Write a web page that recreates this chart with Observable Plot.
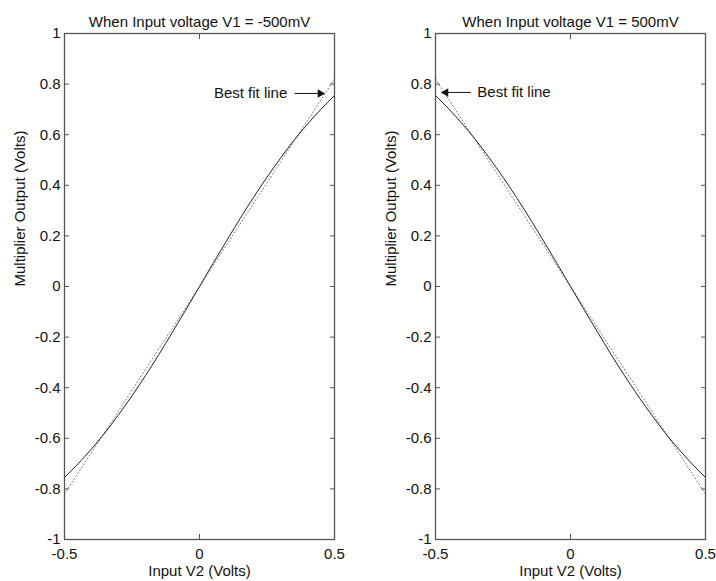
<!DOCTYPE html>
<html>
<head>
<meta charset="utf-8">
<script src="https://cdn.jsdelivr.net/npm/d3@7"></script>
<script src="https://cdn.jsdelivr.net/npm/@observablehq/plot@0.6"></script>
<style>
  html, body { margin: 0; padding: 0; background: #fff; }
  #wrap { position: relative; width: 716px; height: 581px; overflow: hidden; }
  #wrap > div { position: absolute; top: 0; }
</style>
</head>
<body>
<div id="wrap"><div id="left" style="left:0"></div><div id="right" style="left:358px"></div></div>
<script>
// ---- data ----
const v2 = [-0.5,-0.45,-0.4,-0.35,-0.3,-0.25,-0.2,-0.15,-0.1,-0.05,0,0.05,0.1,0.15,0.2,0.25,0.3,0.35,0.4,0.45,0.5];
const outNeg500 = [-0.755,-0.701,-0.642,-0.578,-0.507,-0.432,-0.352,-0.268,-0.180,-0.091,0,0.091,0.180,0.268,0.352,0.432,0.507,0.578,0.642,0.701,0.755];
const outPos500 = [0.755,0.701,0.642,0.578,0.507,0.432,0.352,0.268,0.180,0.091,0,-0.091,-0.180,-0.268,-0.352,-0.432,-0.507,-0.578,-0.642,-0.701,-0.755];
const fitX = [-0.5, 0.5];
const fitNeg500 = [-0.82, 0.82];
const fitPos500 = [0.82, -0.82];
const xTicks = [-0.5, 0, 0.5];
const yTicks = [-1,-0.8,-0.6,-0.4,-0.2,0,0.2,0.4,0.6,0.8,1];
const titles = ["When Input voltage V1 = -500mV", "When Input voltage V1 = 500mV"];
const xLabel = "Input V2 (Volts)";
const yLabel = "Multiplier Output (Volts)";
const noteText = "Best fit line";
// annotation arrows
const arrowNeg500 = {x1: 0.352, x2: 0.447, y: 0.763, tx: 0.325};
const arrowPos500 = {x1: -0.37, x2: -0.462, y: 0.767, tx: -0.345};

const FONT = "Liberation Sans, Arial, Helvetica, sans-serif";
const AX = "#555";
const FS = 15;

function panel(vals, fit, title, arrow, marginLeft, marginRight, textAnchor) {
  const curve = v2.map((x, i) => ({x, y: vals[i]}));
  const fitLine = fitX.map((x, i) => ({x, y: fit[i]}));
  return Plot.plot({
    width: 358, height: 581,
    marginLeft, marginRight, marginTop: 33, marginBottom: 42,
    style: {fontFamily: FONT, fontSize: FS + "px", color: "#111", background: "#fff"},
    x: {domain: [-0.5, 0.5]},
    y: {domain: [-1, 1]},
    marks: [
      Plot.line(fitLine, {x: "x", y: "y", stroke: "#777", strokeWidth: 1, strokeDasharray: "1,2.5"}),
      Plot.line(curve, {x: "x", y: "y", stroke: "#222", strokeWidth: 1, curve: "natural"}),
      Plot.frame({stroke: AX, strokeWidth: 1.3}),
      Plot.axisX(xTicks, {anchor: "bottom", tickSize: -5, tickPadding: 14, stroke: AX, fill: "#111",
        tickFormat: d => String(d), label: null, fontSize: FS}),
      Plot.axisX(xTicks, {anchor: "top", tickSize: -5, stroke: AX, tickFormat: () => "", label: null}),
      Plot.axisY(yTicks, {anchor: "left", tickSize: -5, tickPadding: 9, stroke: AX, fill: "#111",
        tickFormat: d => String(d), label: null, fontSize: FS}),
      Plot.axisY(yTicks, {anchor: "right", tickSize: -5, stroke: AX, tickFormat: () => "", label: null}),
      Plot.text([title], {frameAnchor: "top", dy: -17, text: d => d, fontSize: FS, fill: "#111"}),
      Plot.text([xLabel], {frameAnchor: "bottom", dy: 36, text: d => d, fontSize: FS, fill: "#111"}),
      Plot.text([yLabel], {frameAnchor: "left", dx: -44, rotate: -90, text: d => d, fontSize: FS, fill: "#111"}),
      Plot.link([arrow], {x1: "x1", x2: "x2", y1: "y", y2: "y", stroke: "#111", strokeWidth: 1}),
      Plot.dot([arrow], {x: "x2", y: "y", symbol: "triangle", r: 3.2, fill: "#111", stroke: "none",
        rotate: textAnchor === "end" ? 90 : -90}),
      Plot.text([arrow], {x: "tx", y: "y", text: () => noteText, textAnchor, fontSize: FS, fill: "#111"})
    ]
  });
}

document.getElementById("left").append(panel(outNeg500, fitNeg500, titles[0], arrowNeg500, 64, 24, "end"));
document.getElementById("right").append(panel(outPos500, fitPos500, titles[1], arrowPos500, 77, 11, "start"));
</script>
</body>
</html>
